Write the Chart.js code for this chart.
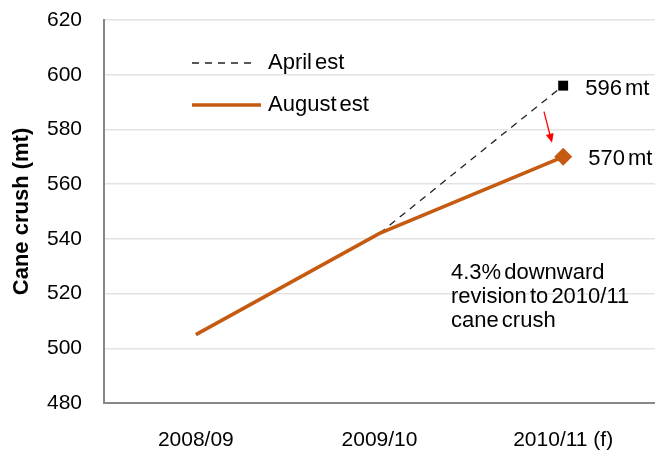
<!DOCTYPE html>
<html>
<head>
<meta charset="utf-8">
<script src="https://cdn.jsdelivr.net/npm/chart.js@4"></script>
<style>
  body { margin: 0; background: #fff; }
  #wrap { width: 655px; height: 452px; }
</style>
</head>
<body>
<div id="wrap"><canvas id="myChart" width="655" height="452"></canvas></div>
<script>
const seasons = ["2008/09", "2009/10", "2010/11 (f)"];
const aprilEst = [null, 542, 596];
const augustEst = [505, 542, 570];
const yTicks = [480, 500, 520, 540, 560, 580, 600, 620];
const legendNames = ["April est", "August est"];
const endLabels = ["596 mt", "570 mt"];
const noteLines = ["4.3% downward", "revision to 2010/11", "cane crush"];

const orange = "#C55A11";
const font = "'Liberation Sans', Arial, sans-serif";

// legend, value labels, arrow and note are drawn on top
const extras = {
  id: "extras",
  afterDatasetsDraw(chart) {
    const c = chart.ctx;
    const x = chart.scales.x;
    const y = chart.scales.y;
    c.save();
    c.font = "22px " + font;
    c.wordSpacing = "-3px";
    c.fillStyle = "#000";
    c.textBaseline = "middle";

    // legend
    c.strokeStyle = "#222";
    c.lineWidth = 1.3;
    c.setLineDash([7, 6]);
    c.beginPath(); c.moveTo(192, 63); c.lineTo(256, 63); c.stroke();
    c.setLineDash([]);
    c.strokeStyle = orange;
    c.lineWidth = 3.5;
    c.beginPath(); c.moveTo(192, 105); c.lineTo(261, 105); c.stroke();
    c.fillText(legendNames[0], 268, 63);
    c.fillText(legendNames[1], 268, 105);

    // end labels
    const xe = x.getPixelForValue(2);
    c.fillText(endLabels[0], xe + 22, y.getPixelForValue(aprilEst[2]) + 3);
    c.fillText(endLabels[1], xe + 25, y.getPixelForValue(augustEst[2]) + 2);

    // red arrow
    const ax0 = 544, ay0 = y.getPixelForValue(aprilEst[2]) + 26;
    const ax1 = 552, ay1 = y.getPixelForValue(augustEst[2]) - 14;
    const ang = Math.atan2(ay1 - ay0, ax1 - ax0);
    c.strokeStyle = "#FF0000";
    c.fillStyle = "#FF0000";
    c.lineWidth = 1.3;
    c.beginPath(); c.moveTo(ax0, ay0); c.lineTo(ax1 - 6 * Math.cos(ang), ay1 - 6 * Math.sin(ang)); c.stroke();
    c.beginPath();
    c.moveTo(ax1, ay1);
    c.lineTo(ax1 - 9 * Math.cos(ang) + 4 * Math.sin(ang), ay1 - 9 * Math.sin(ang) - 4 * Math.cos(ang));
    c.lineTo(ax1 - 9 * Math.cos(ang) - 4 * Math.sin(ang), ay1 - 9 * Math.sin(ang) + 4 * Math.cos(ang));
    c.closePath(); c.fill();

    // note
    c.fillStyle = "#000";
    noteLines.forEach((t, i) => c.fillText(t, 451, 273 + i * 24));
    c.restore();
  }
};

const data = {
  labels: seasons,
  datasets: [
    {
      label: legendNames[0],
      data: aprilEst,
      borderColor: "#222",
      borderWidth: 1.3,
      borderDash: [7, 6],
      backgroundColor: "#000",
      pointStyle: "rect",
      pointRadius: [0, 0, 7],
      pointBorderWidth: 0,
      tension: 0,
      order: 2
    },
    {
      label: legendNames[1],
      data: augustEst,
      borderColor: orange,
      borderWidth: 3.5,
      backgroundColor: orange,
      pointStyle: "rectRot",
      pointRadius: [0, 0, 9],
      pointBorderWidth: 0,
      tension: 0,
      order: 1
    }
  ]
};

const config = {
  type: "line",
  data,
  plugins: [extras],
  options: {
    responsive: false,
    animation: false,
    layout: { autoPadding: false, padding: { top: 20, right: 0, bottom: 0, left: 0 } },
    plugins: { legend: { display: false }, tooltip: { enabled: false } },
    scales: {
      x: {
        offset: true,
        afterFit: (axis) => { axis.height = 49; axis.paddingLeft = 0; axis.paddingRight = 0; },
        grid: { display: false, drawTicks: false },
        border: { color: "#888", width: 2 },
        ticks: { color: "#000", padding: 25, maxRotation: 0, font: { family: font, size: 21 } }
      },
      y: {
        min: 480,
        max: 620,
        afterBuildTicks: (axis) => { axis.ticks = yTicks.map(v => ({ value: v })); },
        afterFit: (axis) => { axis.width = 104; axis.paddingTop = 0; axis.paddingBottom = 0; },
        grid: { color: "#E3E3E3", lineWidth: 1.5, drawTicks: false },
        border: { color: "#888", width: 2 },
        ticks: { color: "#000", padding: 22, font: { family: font, size: 21 } },
        title: {
          display: true,
          text: "Cane crush (mt)",
          color: "#000",
          padding: { top: 9, bottom: 0 },
          font: { family: font, size: 22, weight: "bold" }
        }
      }
    }
  }
};

const ctx = document.getElementById("myChart");
let myChart = new Chart(ctx, config);
</script>
</body>
</html>
